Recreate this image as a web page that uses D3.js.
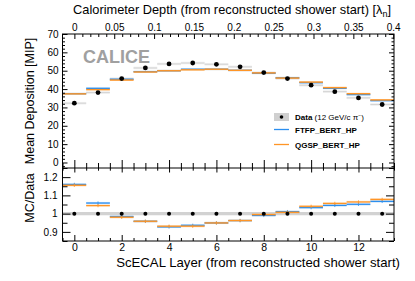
<!DOCTYPE html>
<html><head><meta charset="utf-8">
<script src="https://cdn.jsdelivr.net/npm/d3@7"></script>
<style>
body{margin:0;background:#fff;}
svg{display:block;font-family:"Liberation Sans",Arial,sans-serif;}
</style></head>
<body><svg id="c" width="415" height="281"></svg>
<script>
const layers = [0,1,2,3,4,5,6,7,8,9,10,11,12,13];
const dataMean = [32.3, 38.1, 45.7, 51.5, 53.7, 54.2, 53.5, 52.1, 49.0, 45.7, 42.1, 38.6, 35.2, 31.6];
const ftfp = [37.5, 40.4, 45.3, 49.5, 50.0, 50.8, 50.8, 50.2, 48.6, 46.2, 43.5, 40.4, 37.0, 33.7];
const qgsp = [37.4, 39.7, 44.9, 49.3, 50.0, 50.5, 50.8, 50.2, 48.8, 46.0, 43.8, 40.8, 37.5, 34.1];
const ratioFTFP = [1.160, 1.058, 0.984, 0.958, 0.927, 0.936, 0.949, 0.962, 0.990, 1.011, 1.033, 1.045, 1.051, 1.067];
const ratioQGSP = [1.155, 1.044, 0.980, 0.958, 0.931, 0.931, 0.949, 0.962, 0.995, 1.007, 1.040, 1.056, 1.064, 1.078];
const layerTicks = [0,2,4,6,8,10,12];
const lambdaTicks = [0,0.05,0.1,0.15,0.2,0.25,0.3,0.35,0.4];
const meanTicks = [0,10,20,30,40,50,60,70];
const ratioTicks = [0.9,1,1.1,1.2];

const svg = d3.select("#c");
const L = 62.5, R = 394, T1 = 34, B1 = 168, B2 = 241;
const BLUE = "#2b8ff0", ORANGE = "#ff9526";

const x = d3.scaleLinear().domain([-0.5, 13.5]).range([L, R]);
const xl = d3.scaleLinear().domain([-0.0149, 0.401]).range([L, R]);
const y1 = d3.scaleLinear().domain([-3, 70]).range([B1, T1]);
const y2 = d3.scaleLinear().domain([0.85, 1.25]).range([B2, B1]);

const fmtTick = d => String(+d.toFixed(2));

function styleAxis(g, fs){
  g.select(".domain").remove();
  g.selectAll("line").attr("stroke","#000").attr("stroke-width",1);
  g.selectAll("text").attr("font-size",fs).attr("fill","#000").attr("font-family","Liberation Sans, Arial, sans-serif");
}

// ---------- top panel content ----------
const topG = svg.append("g");
topG.selectAll("rect.dband").data(layers).enter().append("rect")
  .attr("x", d => x(d-0.5)).attr("width", d => x(d+0.5)-x(d-0.5))
  .attr("y", (d,i) => y1(dataMean[i]+0.7)).attr("height", (d,i)=> y1(dataMean[i]-0.7)-y1(dataMean[i]+0.7))
  .attr("fill","#efefef");
topG.selectAll("line.dl").data(layers).enter().append("line")
  .attr("x1", d => x(d-0.5)).attr("x2", d => x(d+0.5))
  .attr("y1", (d,i)=>y1(dataMean[i])).attr("y2",(d,i)=>y1(dataMean[i]))
  .attr("stroke","#d4d4d4").attr("stroke-width",1);
function mcTop(vals, col){
  topG.selectAll(null).data(layers).enter().append("rect")
    .attr("x", d => x(d-0.5)).attr("width", d => x(d+0.5)-x(d-0.5))
    .attr("y", (d,i) => y1(vals[i]+0.5)).attr("height", (d,i)=> y1(vals[i]-0.5)-y1(vals[i]+0.5))
    .attr("fill",col).attr("opacity",0.3);
  topG.selectAll(null).data(layers).enter().append("line")
    .attr("x1", d => x(d-0.5)).attr("x2", d => x(d+0.5))
    .attr("y1", (d,i)=>y1(vals[i])).attr("y2",(d,i)=>y1(vals[i]))
    .attr("stroke",col).attr("stroke-width",1.3);
}
mcTop(ftfp, BLUE);
mcTop(qgsp, ORANGE);
topG.selectAll("circle").data(layers).enter().append("circle")
  .attr("cx", d=>x(d)).attr("cy",(d,i)=>y1(dataMean[i])).attr("r",2.4).attr("fill","#000");

// CALICE
svg.append("text").attr("x",83).attr("y",63).attr("font-size",18).attr("font-weight","bold")
  .attr("fill","#a0a0a0").text("CALICE");

// legend
const lg = svg.append("g");
lg.append("rect").attr("x",274).attr("y",113).attr("width",15).attr("height",8).attr("fill","#d0d0d0");
lg.append("circle").attr("cx",281.5).attr("cy",117).attr("r",1.8).attr("fill","#000");
const t0 = lg.append("text").attr("x",295).attr("y",120).attr("font-size",8);
t0.append("tspan").attr("font-weight","bold").text("Data");
t0.append("tspan").text(" (12 GeV/c \u03c0");
t0.append("tspan").attr("font-size",5).attr("dy",-3).text("\u2212");
t0.append("tspan").attr("dy",3).text(")");
lg.append("line").attr("x1",274).attr("x2",289).attr("y1",129.5).attr("y2",129.5).attr("stroke",BLUE).attr("stroke-width",1.3);
lg.append("text").attr("x",295).attr("y",132.5).attr("font-size",8).attr("font-weight","bold").text("FTFP_BERT_HP");
lg.append("line").attr("x1",274).attr("x2",289).attr("y1",144.5).attr("y2",144.5).attr("stroke",ORANGE).attr("stroke-width",1.3);
lg.append("text").attr("x",295).attr("y",147.5).attr("font-size",8).attr("font-weight","bold").text("QGSP_BERT_HP");

// ---------- bottom panel content ----------
const botG = svg.append("g");
botG.append("rect").attr("x",L).attr("width",R-L).attr("y",y2(1.009)).attr("height",y2(0.991)-y2(1.009)).attr("fill","#d2d2d2");
function mcBot(vals, col){
  botG.selectAll(null).data(layers).enter().append("rect")
    .attr("x", d => x(d-0.5)).attr("width", d => x(d+0.5)-x(d-0.5))
    .attr("y", (d,i) => y2(vals[i]+0.006)).attr("height", (d,i)=> y2(vals[i]-0.006)-y2(vals[i]+0.006))
    .attr("fill",col).attr("opacity",0.3);
  botG.selectAll(null).data(layers).enter().append("line")
    .attr("x1", d => x(d-0.5)).attr("x2", d => x(d+0.5))
    .attr("y1", (d,i)=>y2(vals[i])).attr("y2",(d,i)=>y2(vals[i]))
    .attr("stroke",col).attr("stroke-width",1.2);
  botG.selectAll(null).data(layers).enter().append("line")
    .attr("x1", d => x(d)).attr("x2", d => x(d))
    .attr("y1", (d,i)=>y2(vals[i]+0.009)).attr("y2",(d,i)=>y2(vals[i]-0.009))
    .attr("stroke",col).attr("stroke-width",0.8);
}
mcBot(ratioFTFP, BLUE);
mcBot(ratioQGSP, ORANGE);
botG.selectAll("circle").data(layers).enter().append("circle")
  .attr("cx", d=>x(d)).attr("cy", y2(1)).attr("r",2).attr("fill","#000");

// ---------- frames & axes ----------
svg.append("rect").attr("x",L).attr("y",T1).attr("width",R-L).attr("height",B1-T1).attr("fill","none").attr("stroke","#000").attr("stroke-width",1);
svg.append("line").attr("x1",L).attr("x2",L).attr("y1",B1).attr("y2",B2).attr("stroke","#000");
svg.append("line").attr("x1",R).attr("x2",R).attr("y1",B1).attr("y2",B2).attr("stroke","#000");
svg.append("line").attr("x1",L).attr("x2",R).attr("y1",B2).attr("y2",B2).attr("stroke","#000");

const layerMinor = d3.range(-0.5, 13.51, 0.5).filter(v => !layerTicks.includes(v));
const lambdaMinor = d3.range(0, 0.401, 0.01).map(v=>+v.toFixed(2)).filter(v => !lambdaTicks.some(t=>Math.abs(t-v)<1e-6));
const meanMinor = d3.range(-2, 70.1, 2).filter(v => v%10!==0);
const ratioMinor = [0.85,0.95,1.05,1.15,1.25];
const FS = 10;

svg.append("g").attr("transform",`translate(0,${T1})`).call(d3.axisTop(xl).tickValues(lambdaTicks).tickSize(-5).tickPadding(3).tickFormat(fmtTick)).call(g=>styleAxis(g,FS));
svg.append("g").attr("transform",`translate(0,${T1})`).call(d3.axisTop(xl).tickValues(lambdaMinor).tickSize(-3).tickFormat("")).call(g=>styleAxis(g,9));
svg.append("g").attr("transform",`translate(0,${B1})`).call(d3.axisBottom(x).tickValues(layerTicks).tickSize(-8).tickFormat("")).call(g=>styleAxis(g,9));
svg.append("g").attr("transform",`translate(0,${B1})`).call(d3.axisBottom(x).tickValues(layerMinor).tickSize(-5).tickFormat("")).call(g=>styleAxis(g,9));
svg.append("g").attr("transform",`translate(0,${B1})`).call(d3.axisBottom(x).tickValues(layerTicks).tickSize(4.5).tickFormat("")).call(g=>styleAxis(g,9));
svg.append("g").attr("transform",`translate(0,${B1})`).call(d3.axisBottom(x).tickValues(layerMinor).tickSize(2.7).tickFormat("")).call(g=>styleAxis(g,9));
svg.append("g").attr("transform",`translate(0,${B2})`).call(d3.axisBottom(x).tickValues(layerTicks).tickSize(-6).tickPadding(3).tickFormat(d3.format("d"))).call(g=>styleAxis(g,10.5));
svg.append("g").attr("transform",`translate(0,${B2})`).call(d3.axisBottom(x).tickValues(layerMinor).tickSize(-3).tickFormat("")).call(g=>styleAxis(g,9));
svg.append("g").attr("transform",`translate(${L},0)`).call(d3.axisLeft(y1).tickValues(meanTicks).tickSize(-5).tickPadding(4).tickFormat(d3.format("d"))).call(g=>styleAxis(g,FS));
svg.append("g").attr("transform",`translate(${L},0)`).call(d3.axisLeft(y1).tickValues(meanMinor).tickSize(-2.5).tickFormat("")).call(g=>styleAxis(g,9));
svg.append("g").attr("transform",`translate(${R},0)`).call(d3.axisRight(y1).tickValues(meanTicks).tickSize(-5).tickFormat("")).call(g=>styleAxis(g,9));
svg.append("g").attr("transform",`translate(${R},0)`).call(d3.axisRight(y1).tickValues(meanMinor).tickSize(-2.5).tickFormat("")).call(g=>styleAxis(g,9));
svg.append("g").attr("transform",`translate(${L},0)`).call(d3.axisLeft(y2).tickValues(ratioTicks).tickSize(-8).tickPadding(5).tickFormat(fmtTick)).call(g=>styleAxis(g,FS));
svg.append("g").attr("transform",`translate(${L},0)`).call(d3.axisLeft(y2).tickValues(ratioMinor).tickSize(-5).tickFormat("")).call(g=>styleAxis(g,9));
svg.append("g").attr("transform",`translate(${R},0)`).call(d3.axisRight(y2).tickValues(ratioTicks).tickSize(-8).tickFormat("")).call(g=>styleAxis(g,9));
svg.append("g").attr("transform",`translate(${R},0)`).call(d3.axisRight(y2).tickValues(ratioMinor).tickSize(-5).tickFormat("")).call(g=>styleAxis(g,9));

const tt = svg.append("text").attr("x",391).attr("y",14).attr("text-anchor","end").attr("font-size",12.8);
tt.append("tspan").text("Calorimeter Depth (from reconstructed shower start) [\u03bb");
tt.append("tspan").attr("font-size",9).attr("dy",2.5).text("n");
tt.append("tspan").attr("dy",-2.5).text("]");
svg.append("text").attr("x",400).attr("y",267).attr("text-anchor","end").attr("font-size",13.2)
  .text("ScECAL Layer (from reconstructed shower start)");
svg.append("text").attr("transform","translate(34,101) rotate(-90)").attr("text-anchor","middle").attr("font-size",12.5)
  .text("Mean Deposition [MIP]");
svg.append("text").attr("transform","translate(34,198) rotate(-90)").attr("text-anchor","middle").attr("font-size",12.5)
  .text("MC/Data");
</script></body></html>
